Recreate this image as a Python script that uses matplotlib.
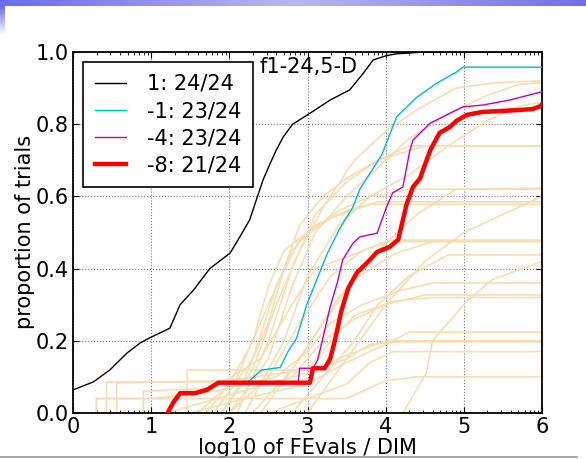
#!/usr/bin/env python3

'''
ECDF of run lengths, f1-24 in 5-D, on a slide background
'''

import numpy as np
import matplotlib
matplotlib.use('Agg')
import matplotlib.pyplot as plt
from matplotlib.lines import Line2D

# main algorithm curves (log10 of FEvals/DIM, proportion of trials)
labels = ['1: 24/24', '-1: 23/24', '-4: 23/24', '-8: 21/24']

black_x = [0, 0.26, 0.47, 0.69, 0.86, 0.98, 1.24, 1.37, 1.54, 1.75, 2.01, 2.14,
           2.26, 2.43, 2.52, 2.6, 2.69, 2.81, 3.03, 3.29, 3.54, 3.71, 3.84,
           4.01, 4.14, 4.5, 6]
black_y = [0.064, 0.086, 0.119, 0.166, 0.194, 0.208, 0.235, 0.3, 0.34, 0.4,
           0.443, 0.49, 0.535, 0.645, 0.69, 0.728, 0.765, 0.80, 0.83, 0.867,
           0.895, 0.94, 0.978, 0.99, 0.995, 1.0, 1.0]

red_x = [1.21, 1.28, 1.37, 1.56, 1.71, 1.86, 3.03, 3.07, 3.22, 3.29, 3.35,
         3.43, 3.52, 3.63, 3.78, 3.89, 4.05, 4.16, 4.27, 4.35, 4.44, 4.57,
         4.69, 4.82, 4.91, 5.04, 5.24, 5.68, 5.88, 5.98, 6]
red_y = [0, 0.028, 0.055, 0.055, 0.064, 0.084, 0.084, 0.124, 0.124, 0.15, 0.2,
         0.28, 0.345, 0.388, 0.42, 0.446, 0.46, 0.48, 0.58, 0.626, 0.65, 0.728,
         0.776, 0.792, 0.81, 0.826, 0.834, 0.839, 0.842, 0.85, 0.855]

cyan_x = [1.21, 1.28, 1.37, 1.56, 1.71, 1.86, 2.2, 2.26, 2.41, 2.65, 2.75,
          2.86, 2.99, 3.12, 3.25, 3.41, 3.58, 3.67, 3.95, 4.14, 4.40, 4.65,
          4.91, 4.99, 6]
cyan_y = [0, 0.028, 0.055, 0.055, 0.064, 0.084, 0.084, 0.09, 0.119, 0.126,
          0.17, 0.207, 0.3, 0.37, 0.44, 0.51, 0.57, 0.62, 0.715, 0.82, 0.875,
          0.913, 0.945, 0.958, 0.958]

magenta_x = [1.21, 1.28, 1.37, 1.56, 1.71, 1.86, 2.88, 2.9, 3.07, 3.13, 3.2,
             3.29, 3.38, 3.45, 3.58, 3.67, 3.89, 4.01, 4.09, 4.22, 4.31, 4.35,
             4.57, 4.82, 4.99, 5.24, 5.59, 6]
magenta_y = [0, 0.028, 0.055, 0.055, 0.064, 0.084, 0.084, 0.124, 0.124, 0.147,
             0.21, 0.294, 0.36, 0.424, 0.47, 0.488, 0.498, 0.57, 0.61, 0.626,
             0.728, 0.756, 0.803, 0.83, 0.848, 0.853, 0.867, 0.89]

# background (other algorithms) curves
bg_x = [
    [1.9, 2.3, 2.6, 2.9, 3.2, 3.6, 4.0, 4.4, 4.9, 5.4, 6],
    [2.0, 2.5, 2.8, 3.1, 3.5, 3.9, 4.3, 4.8, 5.3, 5.7, 6],
    [2.2, 2.7, 3.0, 3.4, 3.8, 4.3, 4.8, 5.3, 5.7, 6],
    [2.1, 2.5, 2.8, 3.1, 3.5, 3.9, 4.3, 6],
    [2.4, 2.9, 3.4, 3.9, 4.4, 4.9, 6],
    [3.0, 3.5, 4.0, 4.5, 5.0, 5.5, 6],
    [1.6, 2.1, 2.5, 2.8, 3.1, 3.5, 3.9, 6],
    [1.8, 2.3, 2.6, 2.9, 3.3, 3.8, 6],
    [2.0, 2.5, 2.9, 3.3, 3.7, 4.1, 6],
    [2.3, 2.8, 3.2, 3.6, 4.1, 4.6, 6],
    [4.22, 4.52, 4.6, 5.04, 5.37, 6],
    [2.8, 3.2, 3.6, 3.9, 4.3, 4.8, 6],
    [0.3, 0.3, 1.0, 1.8, 2.6, 3.0, 3.3, 3.7, 4.2, 4.6, 6],
    [1.2, 2.0, 2.8, 3.2, 3.6, 4.0, 4.5, 6],
    [0.56, 0.56, 2.0, 3.0, 3.3, 3.6, 4.1, 4.6, 6],
    [1.5, 2.2, 3.0, 3.5, 4.0, 4.3, 6],
    [0.43, 0.43, 2.6, 3.0, 3.5, 4.0, 6],
    [1.46, 1.46, 3.07, 3.5, 3.8, 4.2, 6],
    [2.5, 3.0, 3.5, 3.8, 4.1, 6],
    [0.3, 0.3, 3.5, 3.7, 4.0, 4.4, 6],
    [1.7, 2.0, 2.3, 2.5, 2.7, 3.0, 3.4, 3.8, 4.3, 6],
    [1.9, 2.2, 2.5, 2.7, 2.9, 3.2, 3.5, 3.9, 4.5, 6],
    [0.9, 0.9, 1.8, 2.4, 2.8, 3.1, 3.6, 4.0, 6],
]
bg_y = [
    [0, 0.12, 0.3, 0.45, 0.57, 0.7, 0.78, 0.84, 0.9, 0.915, 0.92],
    [0, 0.15, 0.35, 0.5, 0.6, 0.68, 0.76, 0.83, 0.88, 0.91, 0.915],
    [0, 0.2, 0.38, 0.52, 0.6, 0.66, 0.74, 0.81, 0.85, 0.86],
    [0, 0.2, 0.4, 0.55, 0.64, 0.7, 0.74, 0.74],
    [0, 0.15, 0.32, 0.45, 0.55, 0.62, 0.623],
    [0, 0.15, 0.3, 0.42, 0.5, 0.55, 0.6],
    [0, 0.1, 0.3, 0.45, 0.52, 0.56, 0.585, 0.585],
    [0, 0.15, 0.35, 0.48, 0.54, 0.578, 0.578],
    [0, 0.1, 0.25, 0.38, 0.45, 0.479, 0.479],
    [0, 0.12, 0.25, 0.37, 0.44, 0.475, 0.475],
    [0, 0.11, 0.2, 0.31, 0.37, 0.42],
    [0, 0.1, 0.2, 0.3, 0.38, 0.438, 0.438],
    [0, 0.04, 0.04, 0.06, 0.1, 0.17, 0.25, 0.3, 0.34, 0.36, 0.36],
    [0, 0.05, 0.1, 0.2, 0.26, 0.3, 0.327, 0.327],
    [0, 0.083, 0.09, 0.12, 0.2, 0.27, 0.31, 0.32, 0.32],
    [0, 0.04, 0.08, 0.14, 0.19, 0.224, 0.224],
    [0, 0.086, 0.086, 0.11, 0.16, 0.2, 0.2],
    [0, 0.119, 0.119, 0.15, 0.19, 0.197, 0.197],
    [0, 0.04, 0.08, 0.14, 0.17, 0.17],
    [0, 0.04, 0.04, 0.06, 0.09, 0.1, 0.1],
    [0, 0.08, 0.2, 0.35, 0.45, 0.5, 0.56, 0.6, 0.62, 0.62],
    [0, 0.1, 0.25, 0.4, 0.52, 0.6, 0.65, 0.7, 0.74, 0.74],
    [0, 0.06, 0.07, 0.15, 0.3, 0.4, 0.44, 0.475, 0.475],
]

W, H = 586, 459
fig = plt.figure(figsize=(W/100., H/100.), dpi=100)
fig.patch.set_facecolor('white')

# slide decoration: gradient band on top, fading strip on the left
band = fig.add_axes([0, 1-6./H, 1, 6./H])
grad = np.linspace(0, 1, 256)
cols = np.array([[0.42, 0.42, 0.93], [0.72, 0.72, 0.93], [0.44, 0.44, 0.9]])
pos = np.array([0, 0.5, 1])
img = np.stack([np.interp(grad, pos, cols[:, k]) for k in range(3)], axis=-1)
band.imshow(img[None, :, :], aspect='auto', extent=[0, 1, 0, 1])
band.axis('off')
strip = fig.add_axes([0, 1-35./H, 5./W, 29./H])
fade = np.linspace(0, 1, 64)[:, None]
simg = np.stack([0.42+0.58*fade, 0.42+0.58*fade, 0.93+0.07*fade], axis=-1)
strip.imshow(simg, aspect='auto', extent=[0, 1, 0, 1])
strip.axis('off')

ax = fig.add_axes([73./W, 1-413./H, (542-73.)/W, (413-52.)/H])

for x, y in zip(bg_x, bg_y):
    ax.plot(x, y, color='wheat', lw=1.2, zorder=1)

lines = []
lines += ax.plot(black_x, black_y, color='k', lw=1, zorder=3)
lines += ax.plot(cyan_x, cyan_y, color=(0, 0.75, 0.75), lw=1, zorder=3)
lines += ax.plot(magenta_x, magenta_y, color=(0.75, 0, 0.75), lw=1, zorder=3)
lines += ax.plot(red_x, red_y, color='r', lw=3.2, zorder=4)

ax.set_xlim(0, 6)
ax.set_ylim(0, 1)
ax.set_xticks(range(7))
ax.set_yticks([0, 0.2, 0.4, 0.6, 0.8, 1.0])
ax.set_yticklabels(['0.0', '0.2', '0.4', '0.6', '0.8', '1.0'])
minor = [d + np.log10(k) for d in range(6) for k in range(2, 10)]
ax.set_xticks(minor, minor=True)
ax.tick_params(which='both', direction='in', top=True, right=True,
               labelsize=15, colors='k', pad=3)
ax.tick_params(which='major', length=4, width=0.8)
ax.tick_params(which='minor', length=2, width=0.6)
for s in ax.spines.values():
    s.set_linewidth(1.3)
ax.grid(True, which='major', color='0.45', ls=':', lw=0.8)
ax.set_axisbelow(True)

ax.text(2.39, 0.985, 'f1-24,5-D', fontsize=15, va='top', ha='left')

leg = ax.legend(lines, labels, loc='upper left', fontsize=15,
                fancybox=False, framealpha=1, edgecolor='k',
                borderaxespad=0.5, handlelength=1.5, handletextpad=1.0,
                labelspacing=0.35, borderpad=0.55)
leg.get_frame().set_linewidth(1.2)

fig.text(25./W, 1-232./H, 'proportion of trials', rotation=90,
         ha='center', va='center', fontsize=15)
fig.text(307./W, 1-448./H, 'log10 of FEvals / DIM',
         ha='center', va='center', fontsize=15)

# slide edge line at the bottom, over the x label
fig.add_artist(Line2D([0, 0.985], [1-457./H, 1-457./H], color='0.6', lw=1.2,
                      transform=fig.transFigure, zorder=6))

fig.savefig('out.png', dpi=100)
